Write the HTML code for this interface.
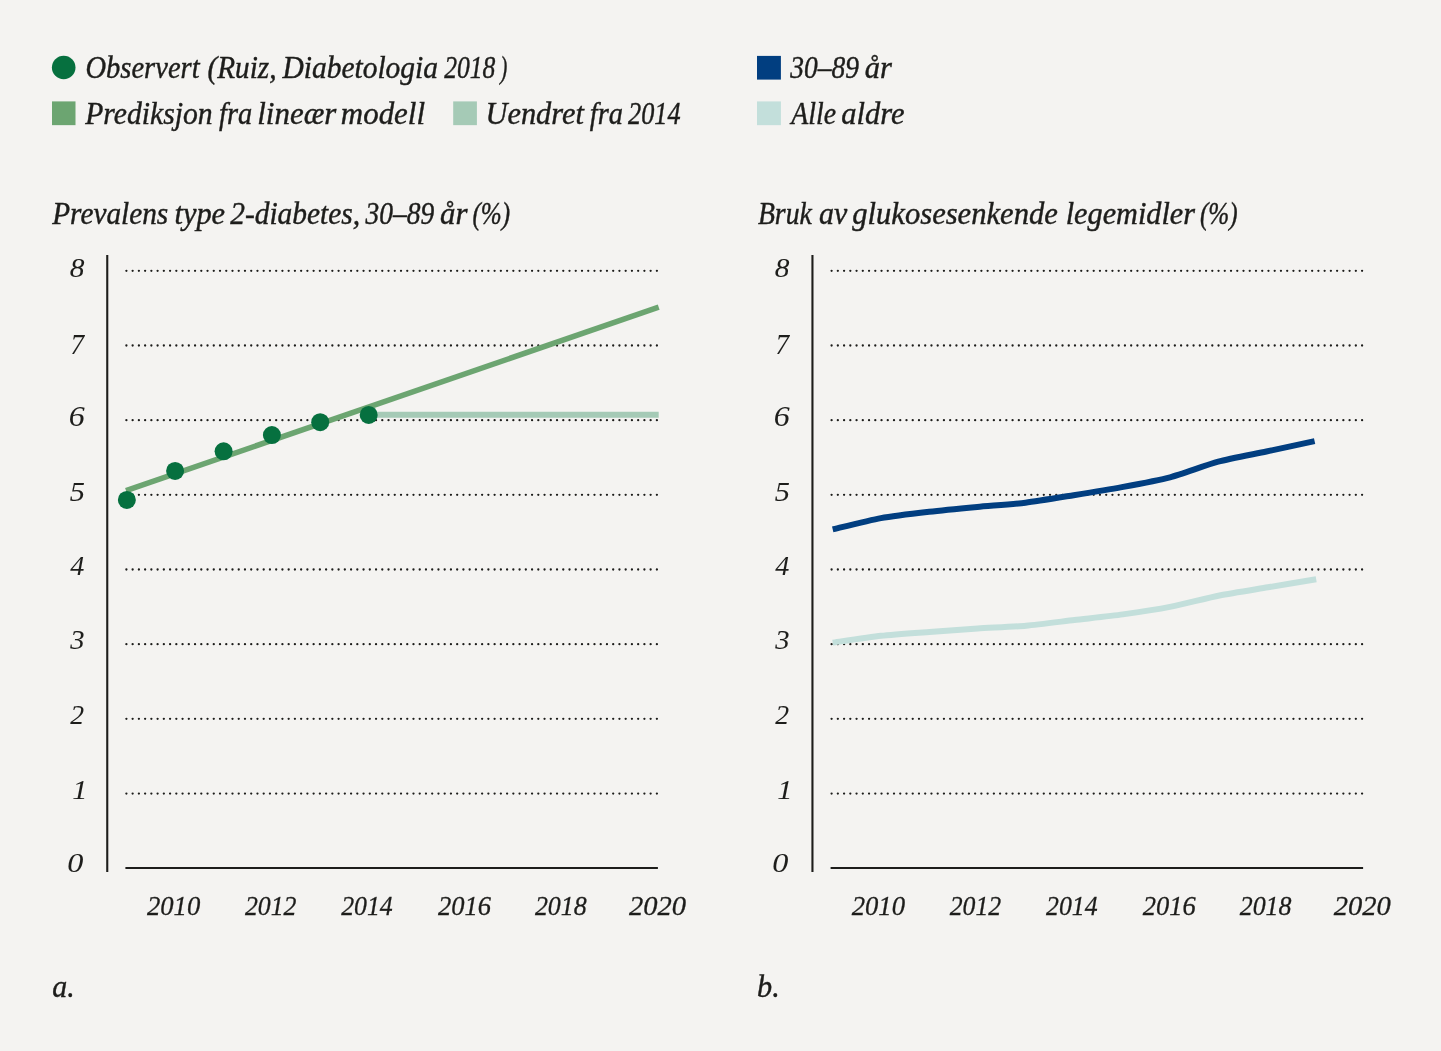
<!DOCTYPE html>
<html lang="no"><head><meta charset="utf-8"><title>Figur</title>
<style>html,body{margin:0;padding:0;background:#f4f3f1}svg{display:block}text{font-family:"Liberation Serif","DejaVu Serif",serif;font-style:italic;fill:#1d1d1b;font-size:30.5px;stroke:#1d1d1b;stroke-width:0.42px}.ax{stroke-width:0.3px}.ay{stroke-width:0.05px}</style>
</head><body>
<svg width="1441" height="1051" viewBox="0 0 1441 1051">
<rect width="1441" height="1051" fill="#f4f3f1"/>
<circle cx="63.7" cy="67.5" r="11.8" fill="#06703f"/>
<rect x="52" y="101.4" width="23.5" height="23.75" fill="#6ca571"/>
<rect x="453.2" y="101.4" width="23.7" height="23.75" fill="#a5cab6"/>
<rect x="757" y="55.9" width="23.9" height="23.7" fill="#013e80"/>
<rect x="757" y="101.4" width="23.9" height="23.75" fill="#c3dfdb"/>
<g>
<line x1="126.40" y1="793.53" x2="657.20" y2="793.53" stroke="#1d1d1b" stroke-width="2.3" stroke-linecap="round" stroke-dasharray="0 6.241"/>
<line x1="126.40" y1="718.86" x2="657.20" y2="718.86" stroke="#1d1d1b" stroke-width="2.3" stroke-linecap="round" stroke-dasharray="0 6.241"/>
<line x1="126.40" y1="644.19" x2="657.20" y2="644.19" stroke="#1d1d1b" stroke-width="2.3" stroke-linecap="round" stroke-dasharray="0 6.241"/>
<line x1="126.40" y1="569.52" x2="657.20" y2="569.52" stroke="#1d1d1b" stroke-width="2.3" stroke-linecap="round" stroke-dasharray="0 6.241"/>
<line x1="126.40" y1="494.85" x2="657.20" y2="494.85" stroke="#1d1d1b" stroke-width="2.3" stroke-linecap="round" stroke-dasharray="0 6.241"/>
<line x1="126.40" y1="420.18" x2="657.20" y2="420.18" stroke="#1d1d1b" stroke-width="2.3" stroke-linecap="round" stroke-dasharray="0 6.241"/>
<line x1="126.40" y1="345.51" x2="657.20" y2="345.51" stroke="#1d1d1b" stroke-width="2.3" stroke-linecap="round" stroke-dasharray="0 6.241"/>
<line x1="126.40" y1="270.84" x2="657.20" y2="270.84" stroke="#1d1d1b" stroke-width="2.3" stroke-linecap="round" stroke-dasharray="0 6.241"/>
<line x1="107.25" y1="255" x2="107.25" y2="872" stroke="#1d1d1b" stroke-width="2.1"/>
<line x1="125.40" y1="867.95" x2="657.90" y2="867.95" stroke="#1d1d1b" stroke-width="2.1"/>
</g>
<line x1="368.50" y1="414.80" x2="658.70" y2="414.80" stroke="#a5cab6" stroke-width="6"/>
<line x1="126.00" y1="490.70" x2="658.70" y2="307.10" stroke="#6ca571" stroke-width="5.6"/>
<circle cx="126.85" cy="499.95" r="9" fill="#06703f"/>
<circle cx="175.10" cy="470.90" r="9" fill="#06703f"/>
<circle cx="223.60" cy="451.30" r="9" fill="#06703f"/>
<circle cx="271.90" cy="435.10" r="9" fill="#06703f"/>
<circle cx="320.20" cy="422.20" r="9" fill="#06703f"/>
<circle cx="368.70" cy="414.90" r="9" fill="#06703f"/>
<g>
<line x1="831.60" y1="793.53" x2="1362.40" y2="793.53" stroke="#1d1d1b" stroke-width="2.3" stroke-linecap="round" stroke-dasharray="0 6.241"/>
<line x1="831.60" y1="718.86" x2="1362.40" y2="718.86" stroke="#1d1d1b" stroke-width="2.3" stroke-linecap="round" stroke-dasharray="0 6.241"/>
<line x1="831.60" y1="644.19" x2="1362.40" y2="644.19" stroke="#1d1d1b" stroke-width="2.3" stroke-linecap="round" stroke-dasharray="0 6.241"/>
<line x1="831.60" y1="569.52" x2="1362.40" y2="569.52" stroke="#1d1d1b" stroke-width="2.3" stroke-linecap="round" stroke-dasharray="0 6.241"/>
<line x1="831.60" y1="494.85" x2="1362.40" y2="494.85" stroke="#1d1d1b" stroke-width="2.3" stroke-linecap="round" stroke-dasharray="0 6.241"/>
<line x1="831.60" y1="420.18" x2="1362.40" y2="420.18" stroke="#1d1d1b" stroke-width="2.3" stroke-linecap="round" stroke-dasharray="0 6.241"/>
<line x1="831.60" y1="345.51" x2="1362.40" y2="345.51" stroke="#1d1d1b" stroke-width="2.3" stroke-linecap="round" stroke-dasharray="0 6.241"/>
<line x1="831.60" y1="270.84" x2="1362.40" y2="270.84" stroke="#1d1d1b" stroke-width="2.3" stroke-linecap="round" stroke-dasharray="0 6.241"/>
<line x1="812.45" y1="255" x2="812.45" y2="872" stroke="#1d1d1b" stroke-width="2.1"/>
<line x1="830.60" y1="867.95" x2="1363.10" y2="867.95" stroke="#1d1d1b" stroke-width="2.1"/>
</g>
<path d="M832.70,642.60 C838.07,641.84 870.31,636.99 881.05,635.80 C891.79,634.61 918.66,632.71 929.40,631.90 C940.14,631.09 967.01,629.19 977.75,628.50 C988.49,627.81 1015.36,626.64 1026.10,625.70 C1036.84,624.76 1063.71,621.26 1074.45,620.00 C1085.19,618.74 1112.06,615.89 1122.80,614.40 C1133.54,612.91 1160.41,608.70 1171.15,606.60 C1181.89,604.50 1208.76,597.64 1219.50,595.50 C1230.24,593.36 1257.11,589.11 1267.85,587.30 C1278.59,585.49 1310.83,580.10 1316.20,579.20" fill="none" stroke="#c3dfdb" stroke-width="6"/>
<path d="M832.70,529.40 C838.05,528.14 870.18,520.07 880.89,518.10 C891.60,516.13 918.37,512.94 929.08,511.70 C939.79,510.46 966.56,507.90 977.27,506.90 C987.98,505.90 1014.75,504.00 1025.46,502.70 C1036.17,501.40 1062.94,496.93 1073.65,495.20 C1084.36,493.47 1111.13,489.09 1121.84,487.10 C1132.55,485.11 1159.32,480.12 1170.03,477.30 C1180.74,474.48 1207.51,464.57 1218.22,461.70 C1228.93,458.83 1255.70,453.79 1266.41,451.50 C1277.12,449.21 1309.25,442.26 1314.60,441.10" fill="none" stroke="#013e80" stroke-width="6"/>
<text y="77.8"><tspan x="85.53" textLength="114.05" lengthAdjust="spacingAndGlyphs">Observert</tspan> <tspan x="207.48" textLength="69.11" lengthAdjust="spacingAndGlyphs">(Ruiz,</tspan> <tspan x="282.48" textLength="155.55" lengthAdjust="spacingAndGlyphs">Diabetologia</tspan> <tspan x="444.21" textLength="51.20" lengthAdjust="spacingAndGlyphs">2018</tspan><tspan x="500.21" textLength="7.05" lengthAdjust="spacingAndGlyphs">)</tspan></text>
<text y="123.8"><tspan x="85.24" textLength="127.34" lengthAdjust="spacingAndGlyphs">Prediksjon</tspan> <tspan x="219.12" textLength="33.10" lengthAdjust="spacingAndGlyphs">fra</tspan> <tspan x="257.28" textLength="79.02" lengthAdjust="spacingAndGlyphs">lineær</tspan> <tspan x="340.89" textLength="84.14" lengthAdjust="spacingAndGlyphs">modell</tspan></text>
<text y="123.8"><tspan x="485.51" textLength="98.41" lengthAdjust="spacingAndGlyphs">Uendret</tspan> <tspan x="589.82" textLength="33.10" lengthAdjust="spacingAndGlyphs">fra</tspan> <tspan x="628.12" textLength="52.52" lengthAdjust="spacingAndGlyphs">2014</tspan></text>
<text y="78.0"><tspan x="790.23" textLength="68.70" lengthAdjust="spacingAndGlyphs">30–89</tspan> <tspan x="864.85" textLength="27.18" lengthAdjust="spacingAndGlyphs">år</tspan></text>
<text y="124.0"><tspan x="791.30" textLength="44.77" lengthAdjust="spacingAndGlyphs">Alle</tspan> <tspan x="841.25" textLength="63.25" lengthAdjust="spacingAndGlyphs">aldre</tspan></text>
<text y="224.0"><tspan x="52.24" textLength="115.95" lengthAdjust="spacingAndGlyphs">Prevalens</tspan> <tspan x="174.46" textLength="50.61" lengthAdjust="spacingAndGlyphs">type</tspan> <tspan x="230.24" textLength="129.89" lengthAdjust="spacingAndGlyphs">2-diabetes,</tspan> <tspan x="365.53" textLength="68.70" lengthAdjust="spacingAndGlyphs">30–89</tspan> <tspan x="439.94" textLength="27.48" lengthAdjust="spacingAndGlyphs">år</tspan> <tspan x="472.38" textLength="37.62" lengthAdjust="spacingAndGlyphs">(%)</tspan></text>
<text y="224.0"><tspan x="757.90" textLength="53.96" lengthAdjust="spacingAndGlyphs">Bruk</tspan> <tspan x="818.96" textLength="28.24" lengthAdjust="spacingAndGlyphs">av</tspan> <tspan x="852.25" textLength="205.59" lengthAdjust="spacingAndGlyphs">glukosesenkende</tspan> <tspan x="1065.71" textLength="129.28" lengthAdjust="spacingAndGlyphs">legemidler</tspan> <tspan x="1199.88" textLength="37.62" lengthAdjust="spacingAndGlyphs">(%)</tspan></text>
<text x="52.27" y="996.8" textLength="22.41" lengthAdjust="spacingAndGlyphs">a.</text>
<text x="757.01" y="996.8" textLength="22.70" lengthAdjust="spacingAndGlyphs">b.</text>
<text class="ay" style="font-size:26.5px" x="67.38" y="872.45" textLength="16.12" lengthAdjust="spacingAndGlyphs">0</text>
<text class="ay" style="font-size:27.0px" x="72.27" y="798.50" textLength="15.21" lengthAdjust="spacingAndGlyphs">1</text>
<text class="ay" style="font-size:27.0px" x="70.20" y="723.80" textLength="13.81" lengthAdjust="spacingAndGlyphs">2</text>
<text class="ay" style="font-size:28.0px" x="70.20" y="649.45" textLength="14.32" lengthAdjust="spacingAndGlyphs">3</text>
<text class="ay" style="font-size:27.5px" x="70.20" y="575.20" textLength="14.07" lengthAdjust="spacingAndGlyphs">4</text>
<text class="ay" style="font-size:27.5px" x="69.65" y="500.95" textLength="15.18" lengthAdjust="spacingAndGlyphs">5</text>
<text class="ay" style="font-size:28.5px" x="68.80" y="426.35" textLength="15.98" lengthAdjust="spacingAndGlyphs">6</text>
<text class="ay" style="font-size:29.5px" x="70.59" y="353.50" textLength="13.59" lengthAdjust="spacingAndGlyphs">7</text>
<text class="ay" style="font-size:28.0px" x="69.78" y="276.65" textLength="14.69" lengthAdjust="spacingAndGlyphs">8</text>
<text class="ay" style="font-size:26.5px" x="772.38" y="872.45" textLength="16.12" lengthAdjust="spacingAndGlyphs">0</text>
<text class="ay" style="font-size:27.0px" x="777.27" y="798.50" textLength="15.21" lengthAdjust="spacingAndGlyphs">1</text>
<text class="ay" style="font-size:27.0px" x="775.20" y="723.80" textLength="13.81" lengthAdjust="spacingAndGlyphs">2</text>
<text class="ay" style="font-size:28.0px" x="775.20" y="649.45" textLength="14.32" lengthAdjust="spacingAndGlyphs">3</text>
<text class="ay" style="font-size:27.5px" x="775.20" y="575.20" textLength="14.07" lengthAdjust="spacingAndGlyphs">4</text>
<text class="ay" style="font-size:27.5px" x="774.65" y="500.95" textLength="15.18" lengthAdjust="spacingAndGlyphs">5</text>
<text class="ay" style="font-size:28.5px" x="773.80" y="426.35" textLength="15.98" lengthAdjust="spacingAndGlyphs">6</text>
<text class="ay" style="font-size:29.5px" x="775.59" y="353.50" textLength="13.59" lengthAdjust="spacingAndGlyphs">7</text>
<text class="ay" style="font-size:28.0px" x="774.78" y="276.65" textLength="14.69" lengthAdjust="spacingAndGlyphs">8</text>
<text class="ax" style="font-size:27.5px" x="146.90" y="914.70" textLength="53.34" lengthAdjust="spacingAndGlyphs">2010</text>
<text class="ax" style="font-size:27.5px" x="244.90" y="914.70" textLength="51.57" lengthAdjust="spacingAndGlyphs">2012</text>
<text class="ax" style="font-size:27.5px" x="341.20" y="914.70" textLength="51.57" lengthAdjust="spacingAndGlyphs">2014</text>
<text class="ax" style="font-size:27.5px" x="437.90" y="914.70" textLength="53.00" lengthAdjust="spacingAndGlyphs">2016</text>
<text class="ax" style="font-size:27.5px" x="534.90" y="914.70" textLength="51.84" lengthAdjust="spacingAndGlyphs">2018</text>
<text class="ax" style="font-size:27.5px" x="629.00" y="914.70" textLength="57.06" lengthAdjust="spacingAndGlyphs">2020</text>
<text class="ax" style="font-size:27.5px" x="851.70" y="914.70" textLength="53.34" lengthAdjust="spacingAndGlyphs">2010</text>
<text class="ax" style="font-size:27.5px" x="949.70" y="914.70" textLength="51.57" lengthAdjust="spacingAndGlyphs">2012</text>
<text class="ax" style="font-size:27.5px" x="1046.00" y="914.70" textLength="51.57" lengthAdjust="spacingAndGlyphs">2014</text>
<text class="ax" style="font-size:27.5px" x="1142.70" y="914.70" textLength="53.00" lengthAdjust="spacingAndGlyphs">2016</text>
<text class="ax" style="font-size:27.5px" x="1239.70" y="914.70" textLength="51.84" lengthAdjust="spacingAndGlyphs">2018</text>
<text class="ax" style="font-size:27.5px" x="1333.80" y="914.70" textLength="57.06" lengthAdjust="spacingAndGlyphs">2020</text>
</svg>
</body></html>
